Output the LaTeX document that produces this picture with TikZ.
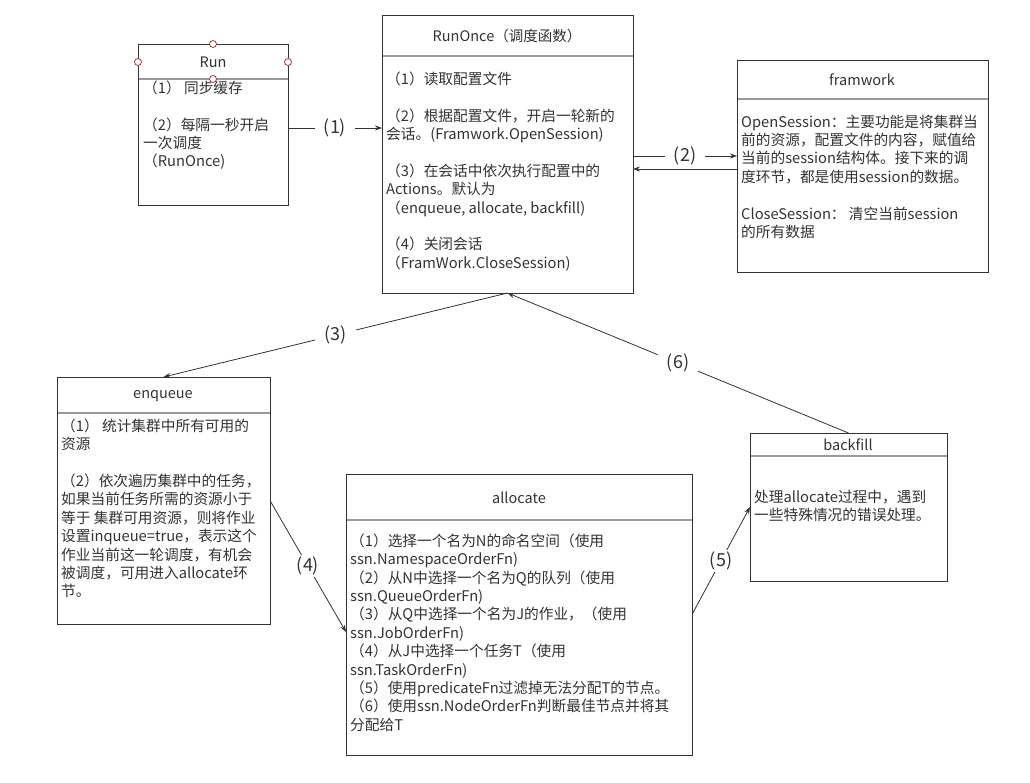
\documentclass[tikz,border=0pt]{standalone}
\usepackage{fontspec}
\setmainfont{Noto Sans CJK SC}
\usetikzlibrary{arrows.meta}
\definecolor{ink}{HTML}{333333}
\definecolor{sepc}{HTML}{9A9A9A}
\definecolor{pinc}{HTML}{A83A3A}
\begin{document}
\begin{tikzpicture}[x=1pt,y=-1pt,
  box/.style={draw=ink,line width=0.9pt,fill=white,inner sep=0pt,outer sep=0pt,anchor=north west},
  sepline/.style={draw=sepc,line width=1.6pt},
  title/.style={text=ink,font=\fontsize{14.5pt}{17pt}\selectfont,inner sep=0pt},
  body/.style={text=ink,font=\fontsize{14.7pt}{18.4pt}\selectfont,align=left,anchor=north west,inner sep=0pt},
  conn/.style={draw=ink,line width=0.8pt},
  arr/.style={conn,-{Stealth[length=7pt,width=5pt]}},
  lbl/.style={fill=white,text=ink,font=\fontsize{18pt}{21pt}\selectfont,inner xsep=9pt,inner ysep=2pt},
  pin/.style={draw=pinc,fill=white,line width=0.8pt}
]
\fill[white] (0,0) rectangle (1030,783);
\useasboundingbox (0,0) rectangle (1030,783);

% boxes
\node[box,minimum width=150pt,minimum height=161pt] (run) at (138,44) {};
\node[box,minimum width=251pt,minimum height=278pt] (runonce) at (382,15) {};
\node[box,minimum width=251pt,minimum height=212pt] (framwork) at (737,60) {};
\node[box,minimum width=213pt,minimum height=247pt] (enqueue) at (57,377) {};
\node[box,minimum width=346pt,minimum height=281pt] (allocate) at (346,474) {};
\node[box,minimum width=197pt,minimum height=148pt] (backfill) at (750,433) {};

% header separators
\draw[sepline] (138.5,79) -- (287.5,79);
\draw[sepline] (382.5,56) -- (632.5,56);
\draw[sepline] (737.5,99) -- (987.5,99);
\draw[sepline] (57.5,413) -- (269.5,413);
\draw[sepline] (346.5,520) -- (691.5,520);
\draw[sepline] (750.5,456) -- (946.5,456);

% titles
\node[title] (runT) at (213,62) {Run};
\node[title] (runonceT) at (507,36) {RunOnce（调度函数）};
\node[title] (framworkT) at (862,80) {framwork};
\node[title] (enqueueT) at (163,396) {enqueue};
\node[title] (allocateT) at (519,498) {allocate};
\node[title] (backfillT) at (848,445) {backfill};

% bodies
\node[body] (runB) at (143,80.5) {（1） 同步缓存\\[18.4pt]
（2）每隔一秒开启\\
一次调度\\
（RunOnce)};

\node[body] (runonceB) at (386,71.5) {（1）读取配置文件\\[18.4pt]
（2）根据配置文件，开启一轮新的\\
会话。(Framwork.OpenSession)\\[18.4pt]
（3）在会话中依次执行配置中的\\
Actions。默认为\\
（enqueue, allocate, backfill)\\[18.4pt]
（4）关闭会话\\
（FramWork.CloseSession)};

\node[body] (framworkB) at (741,114.5) {OpenSession：主要功能是将集群当\\
前的资源，配置文件的内容，赋值给\\
当前的session结构体。接下来的调\\
度环节，都是使用session的数据。\\[18.4pt]
CloseSession： 清空当前session\\
的所有数据};

\node[body] (enqueueB) at (61,418.5) {（1） 统计集群中所有可用的\\
资源\\[18.4pt]
（2）依次遍历集群中的任务，\\
如果当前任务所需的资源小于\\
等于 集群可用资源，则将作业\\
设置inqueue=true，表示这个\\
作业当前这一轮调度，有机会\\
被调度，可用进入allocate环\\
节。};

\node[body] (allocateB) at (350,533.5) {（1）选择一个名为N的命名空间（使用\\
ssn.NamespaceOrderFn)\\
（2）从N中选择一个名为Q的队列（使用\\
ssn.QueueOrderFn)\\
（3）从Q中选择一个名为J的作业，（使用\\
ssn.JobOrderFn)\\
（4）从J中选择一个任务T（使用\\
ssn.TaskOrderFn)\\
（5）使用predicateFn过滤掉无法分配T的节点。\\
（6）使用ssn.NodeOrderFn判断最佳节点并将其\\
分配给T};

\node[body] (backfillB) at (754,489.5) {处理allocate过程中，遇到\\
一些特殊情况的错误处理。};

% connection pins on Run
\draw[pin] (213,44) circle (3.5);
\draw[pin] (138,62) circle (3.5);
\draw[pin] (288,62) circle (3.5);
\draw[pin] (213,79) circle (3.5);

% connectors
\draw[arr] ([yshift=-3.5pt]run.east) -- node[lbl] (l1) {(1)} ([yshift=-3.5pt]runonce.west |- run.east);
\draw[arr] ([yshift=-2pt]runonce.east) -- node[lbl] (l2) {(2)} ([yshift=10pt]framwork.west);
\draw[arr] ([yshift=-3pt]framwork.west) -- ([yshift=-15pt]runonce.east);
\draw[arr] (runonce.south) -- node[lbl] (l3) {(3)} (enqueue.north);
\draw[arr] (enqueue.east) -- node[lbl] (l4) {(4)} ([yshift=-17.5pt]allocate.west);
\draw[arr] (allocate.east) -- node[lbl] (l5) {(5)} (backfill.west);
\draw[arr] (backfill.north) -- node[lbl] (l6) {(6)} (runonce.south);
\end{tikzpicture}
\end{document}
